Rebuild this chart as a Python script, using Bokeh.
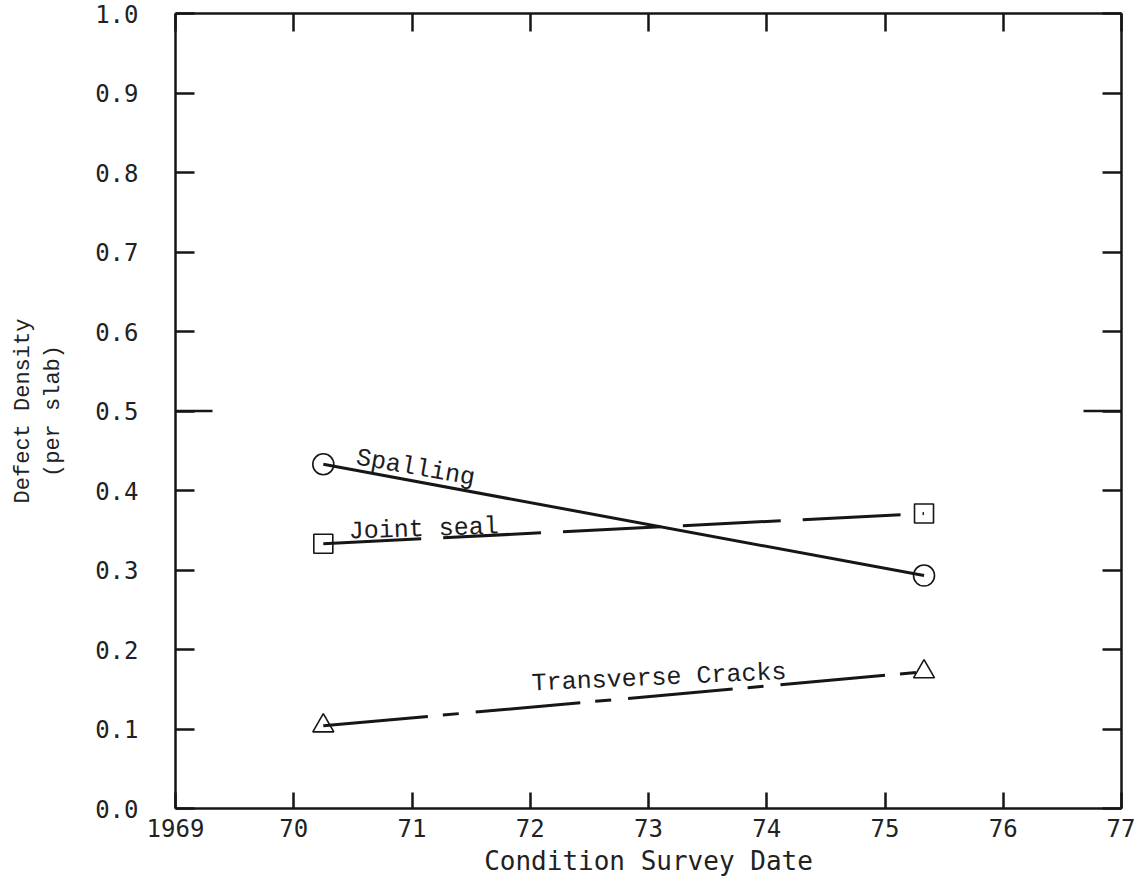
from bokeh.plotting import figure
from bokeh.models import LinearAxis, FixedTicker, Range1d
from bokeh.core.properties import value
from bokeh.embed import file_html
from bokeh.resources import INLINE

# ---- data ----
survey_dates = [70.25, 75.33]
spalling = [0.433, 0.293]
joint_seal = [0.333, 0.371]
transverse_cracks = [0.104, 0.172]

x_ticks = [69, 70, 71, 72, 73, 74, 75, 76, 77]
x_tick_labels = ["1969", "70", "71", "72", "73", "74", "75", "76", "77"]
y_ticks = [0.0, 0.1, 0.2, 0.3, 0.4, 0.5, 0.6, 0.7, 0.8, 0.9, 1.0]

series_labels = ["Spalling", "Joint seal", "Transverse Cracks"]
label_x = [71.03, 71.10, 73.09]
label_y = [0.428, 0.351, 0.164]
label_angle = [-10.0, 2.0, 2.6]

INK = "#161616"
MONO_SANS = "DejaVu Sans Mono"
TYPE = "Liberation Mono"

p = figure(
    frame_width=946, frame_height=795,
    x_range=Range1d(x_ticks[0], x_ticks[-1]),
    y_range=Range1d(y_ticks[0], y_ticks[-1]),
    output_backend="svg", toolbar_location=None,
    min_border_left=175, min_border_right=14, min_border_top=13, min_border_bottom=74,
    background_fill_color="white", border_fill_color="white",
)
p.xgrid.visible = False
p.ygrid.visible = False
p.outline_line_color = None


def style_axis(ax, ticks, tick_in):
    ax.ticker = FixedTicker(ticks=ticks)
    ax.major_tick_in = tick_in
    ax.major_tick_out = 0
    ax.minor_tick_in = 0
    ax.minor_tick_out = 0
    ax.axis_line_width = 2.5
    ax.axis_line_color = INK
    ax.major_tick_line_width = 2.5
    ax.major_tick_line_color = INK


xb = p.xaxis[0]
style_axis(xb, x_ticks, 16)
xb.major_label_overrides = {t: s for t, s in zip(x_ticks, x_tick_labels)}
xb.major_label_text_font = MONO_SANS
xb.major_label_text_font_size = "24px"
xb.major_label_text_color = "#222222"
xb.major_label_standoff = 10
xb.axis_label = "Condition Survey Date"
xb.axis_label_text_font = MONO_SANS
xb.axis_label_text_font_size = "26px"
xb.axis_label_text_font_style = "normal"
xb.axis_label_text_color = "#222222"
xb.axis_label_standoff = 6

yl = p.yaxis[0]
style_axis(yl, y_ticks, 19)
yl.major_label_overrides = {t: f"{t:.1f}" for t in y_ticks}
yl.major_label_text_font = MONO_SANS
yl.major_label_text_font_size = "24px"
yl.major_label_text_color = "#222222"
yl.major_label_standoff = 37
yl.axis_label = "Defect Density\n(per slab)"
yl.axis_label_text_font = TYPE
yl.axis_label_text_font_size = "22px"
yl.axis_label_text_font_style = "normal"
yl.axis_label_text_color = "#222222"
yl.axis_label_text_line_height = 1.2
yl.axis_label_standoff = 26

yr = LinearAxis()
style_axis(yr, y_ticks, 19)
yr.major_label_overrides = {t: "" for t in y_ticks}
yr.major_label_standoff = 0
p.add_layout(yr, "right")

xt = LinearAxis()
style_axis(xt, x_ticks, 18)
xt.major_label_overrides = {t: "" for t in x_ticks}
xt.major_label_standoff = 0
p.add_layout(xt, "above")

# longer mid-scale (0.5) ticks on both vertical axes
mid = y_ticks[5]
p.ray(x=[x_ticks[0]], y=[mid], length=37, length_units="screen", angle=0,
      line_color=INK, line_width=2.5)
p.ray(x=[x_ticks[-1]], y=[mid], length=38, length_units="screen", angle=3.14159265,
      line_color=INK, line_width=2.5)

# series
p.line(survey_dates, spalling, line_color=INK, line_width=3)
p.scatter(survey_dates, spalling, marker="circle", size=21,
          fill_color=None, line_color=INK, line_width=1.6)

p.line(survey_dates, joint_seal, line_color=INK, line_width=3, line_dash="98 22")
p.scatter(survey_dates, joint_seal, marker="square", size=19,
          fill_color=None, line_color=INK, line_width=1.6)

p.line(survey_dates, transverse_cracks, line_color=INK, line_width=3,
       line_dash="105 15 16 17")
p.scatter(survey_dates, transverse_cracks, marker="triangle", size=21,
          fill_color=None, line_color=INK, line_width=1.6)

for lx, ly, la, lt in zip(label_x, label_y, label_angle, series_labels):
    p.text(x=[lx], y=[ly], text=[lt], angle=la, angle_units="deg",
           text_font=value(TYPE), text_font_size="25px", text_color="#1c1c1c",
           text_align="center", text_baseline="middle")

open("out.html", "w").write(file_html(p, INLINE))
